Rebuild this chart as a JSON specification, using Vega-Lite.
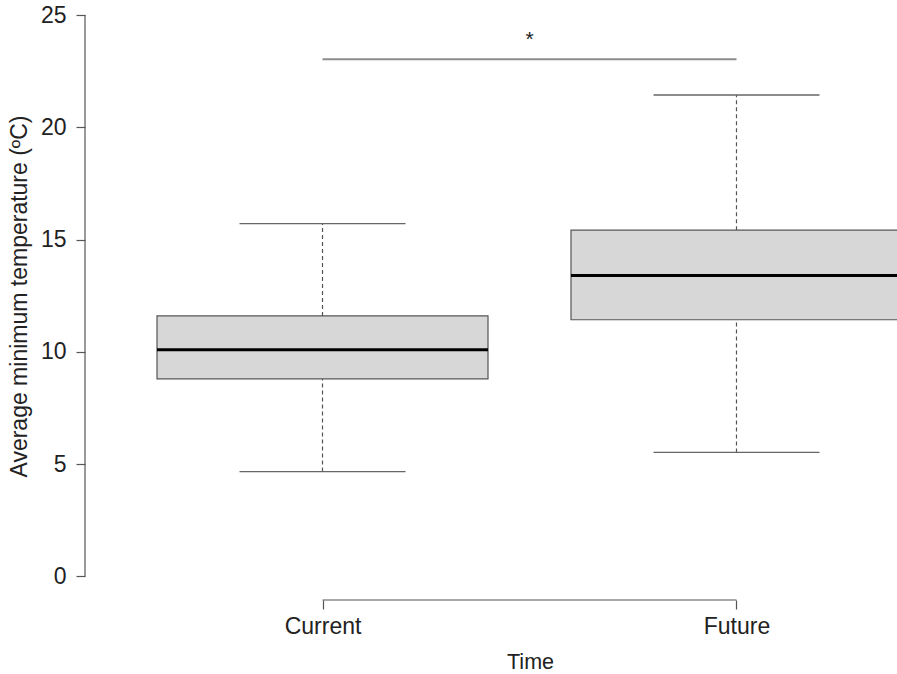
{
  "$schema": "https://vega.github.io/schema/vega-lite/v6.json",
  "width": 812,
  "height": 600,
  "autosize": {"type": "none"},
  "padding": {"left": 85, "top": 0, "right": 0, "bottom": 74},
  "background": "white",
  "config": {
    "view": {"stroke": null},
    "font": "Liberation Sans",
    "axis": {"grid": false}
  },
  "datasets": {
    "stats": [
      {"time": "Current", "pos": 1, "lo": 4.67, "q1": 8.80, "med": 10.09, "q3": 11.60, "hi": 15.71},
      {"time": "Future", "pos": 2, "lo": 5.52, "q1": 11.43, "med": 13.40, "q3": 15.42, "hi": 21.44}
    ],
    "sig": [
      {"from": 1, "to": 2, "mid": 1.5, "y": 23.03, "ytext": 23.62, "label": "*"}
    ],
    "axislines": [
      {"xa": 0.4263, "ya0": 0, "ya1": 25, "xb0": 1, "xb1": 2, "yb": -1.05}
    ]
  },
  "layer": [
    {
      "data": {"name": "stats"},
      "mark": {"type": "rule", "stroke": "#555555", "strokeWidth": 1.2, "strokeDash": [4, 3]},
      "encoding": {
        "x": {
          "field": "pos", "type": "quantitative",
          "scale": {"domain": [0.4263, 2.3877], "nice": false, "zero": false, "padding": 0},
          "axis": {
            "values": [1, 2],
            "labelExpr": "datum.value == 1 ? 'Current' : 'Future'",
            "domain": false,
            "ticks": true, "tickSize": 9, "tickColor": "#555555", "tickWidth": 1.2,
            "labelFontSize": 23, "labelColor": "#222222", "labelFont": "Liberation Sans",
            "labelBaseline": "alphabetic", "labelPadding": 24, "labelFlush": false,
            "title": "Time", "titleFontSize": 21.5, "titleFontWeight": "normal", "titleColor": "#222222",
            "titleFont": "Liberation Sans",
            "titleX": 445, "titleY": 68, "titleBaseline": "alphabetic", "titleAnchor": null, "titleAlign": "center"
          }
        },
        "y": {
          "field": "lo", "type": "quantitative",
          "scale": {"domain": [-1.05, 25.67], "nice": false, "zero": false, "padding": 0},
          "axis": {
            "values": [0, 5, 10, 15, 20, 25],
            "domain": false,
            "ticks": true, "tickSize": 9, "tickColor": "#555555", "tickWidth": 1.2,
            "labelFontSize": 23, "labelColor": "#222222", "labelFont": "Liberation Sans",
            "labelPadding": 10, "labelBaseline": "middle", "labelFlush": false,
            "title": "Average minimum temperature (ºC)", "titleFontSize": 23, "titleFontWeight": "normal",
            "titleColor": "#222222", "titleFont": "Liberation Sans",
            "titleAngle": -90, "titleX": -59, "titleY": 296, "titleBaseline": "alphabetic",
            "titleAlign": "center", "titleAnchor": null
          }
        },
        "y2": {"field": "q1"}
      }
    },
    {
      "data": {"name": "stats"},
      "mark": {"type": "rule", "stroke": "#555555", "strokeWidth": 1.2, "strokeDash": [4, 3]},
      "encoding": {
        "x": {"field": "pos", "type": "quantitative"},
        "y": {"field": "q3", "type": "quantitative"},
        "y2": {"field": "hi"}
      }
    },
    {
      "data": {"name": "stats"},
      "mark": {"type": "tick", "orient": "horizontal", "size": 166, "thickness": 1.3, "color": "#666666", "opacity": 1},
      "encoding": {
        "x": {"field": "pos", "type": "quantitative"},
        "y": {"field": "lo", "type": "quantitative"}
      }
    },
    {
      "data": {"name": "stats"},
      "mark": {"type": "tick", "orient": "horizontal", "size": 166, "thickness": 1.3, "color": "#666666", "opacity": 1},
      "encoding": {
        "x": {"field": "pos", "type": "quantitative"},
        "y": {"field": "hi", "type": "quantitative"}
      }
    },
    {
      "data": {"name": "stats"},
      "mark": {"type": "bar", "size": 331, "fill": "#d7d7d7", "stroke": "#555555", "strokeWidth": 1.2},
      "encoding": {
        "x": {"field": "pos", "type": "quantitative"},
        "y": {"field": "q1", "type": "quantitative"},
        "y2": {"field": "q3"}
      }
    },
    {
      "data": {"name": "stats"},
      "mark": {"type": "tick", "orient": "horizontal", "size": 331, "thickness": 3, "color": "#000000", "opacity": 1},
      "encoding": {
        "x": {"field": "pos", "type": "quantitative"},
        "y": {"field": "med", "type": "quantitative"}
      }
    },
    {
      "data": {"name": "sig"},
      "mark": {"type": "rule", "stroke": "#8c8c8c", "strokeWidth": 2},
      "encoding": {
        "x": {"field": "from", "type": "quantitative"},
        "x2": {"field": "to"},
        "y": {"field": "y", "type": "quantitative"}
      }
    },
    {
      "data": {"name": "sig"},
      "mark": {"type": "text", "fontSize": 21, "color": "#222222", "baseline": "alphabetic", "align": "center", "font": "Liberation Sans"},
      "encoding": {
        "x": {"field": "mid", "type": "quantitative"},
        "y": {"field": "ytext", "type": "quantitative"},
        "text": {"field": "label"}
      }
    },
    {
      "data": {"name": "axislines"},
      "mark": {"type": "rule", "stroke": "#555555", "strokeWidth": 1.2},
      "encoding": {
        "x": {"field": "xa", "type": "quantitative"},
        "y": {"field": "ya0", "type": "quantitative"},
        "y2": {"field": "ya1"}
      }
    },
    {
      "data": {"name": "axislines"},
      "mark": {"type": "rule", "stroke": "#555555", "strokeWidth": 1.2},
      "encoding": {
        "x": {"field": "xb0", "type": "quantitative"},
        "x2": {"field": "xb1"},
        "y": {"field": "yb", "type": "quantitative"}
      }
    }
  ]
}
